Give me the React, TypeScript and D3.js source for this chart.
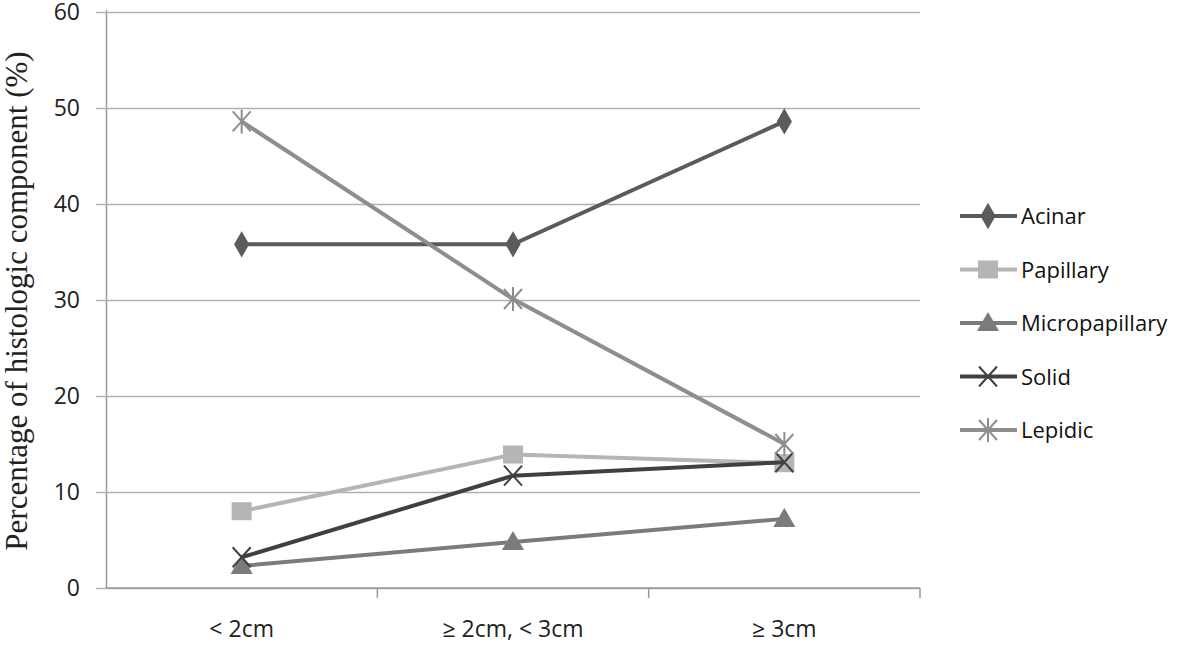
import React, { useEffect, useRef } from 'react';
import * as d3 from 'd3';

// tumour size groups
const categories = ['<2cm', '≥2cm, <3cm', '≥3cm'];
const categoryLabels = ['< 2cm', '≥ 2cm, < 3cm', '≥ 3cm'];

const acinar = [35.8, 35.8, 48.6];
const papillary = [8.0, 13.9, 13.0];
const micropapillary = [2.3, 4.8, 7.2];
const solid = [3.2, 11.7, 13.1];
const lepidic = [48.6, 30.1, 15.0];

const yTicks = [0, 10, 20, 30, 40, 50, 60];

const series = [
  { name: 'Acinar', values: acinar, color: '#5b5b5b', marker: 'diamond' },
  { name: 'Papillary', values: papillary, color: '#b5b5b5', marker: 'square' },
  { name: 'Micropapillary', values: micropapillary, color: '#7b7b7b', marker: 'triangle' },
  { name: 'Solid', values: solid, color: '#404040', marker: 'x' },
  { name: 'Lepidic', values: lepidic, color: '#8e8e8e', marker: 'star' },
];

const App = () => {
  const ref = useRef<SVGSVGElement | null>(null);

  useEffect(() => {
    const svg = d3.select(ref.current);
    svg.selectAll('*').remove();

    const width = 1200;
    const height = 645;
    const margin = { top: 12, right: 280, bottom: 57, left: 106 };
    const plotW = width - margin.left - margin.right;
    const plotH = height - margin.top - margin.bottom;

    const x = d3.scaleBand().domain(categories).range([0, plotW]);
    const y = d3.scaleLinear().domain([0, 60]).range([plotH, 0]);

    svg.append('rect').attr('width', width).attr('height', height).attr('fill', '#fff');

    const g = svg.append('g').attr('transform', `translate(${margin.left},${margin.top})`);

    // horizontal gridlines + y ticks
    const yAxis = g.append('g').call(
      d3.axisLeft(y).tickValues(yTicks).tickSize(-plotW).tickSizeOuter(0).tickPadding(26)
    );
    yAxis.selectAll('.tick line').attr('stroke', '#b0b0b0').attr('stroke-width', 1.5).attr('x1', -10);
    yAxis.selectAll('.tick text')
      .attr('font-family', '"Open Sans", sans-serif')
      .attr('font-size', 23)
      .attr('fill', '#222');
    yAxis.select('.domain')
      .attr('stroke', '#9a9a9a')
      .attr('stroke-width', 1.5)
      .attr('d', `M0.5,-2V${plotH + 1}`);

    // x axis with ticks between categories
    const xAxis = g.append('g').attr('transform', `translate(0,${plotH})`);
    xAxis.append('line')
      .attr('x1', 0).attr('x2', plotW).attr('y1', 0).attr('y2', 0)
      .attr('stroke', '#9a9a9a').attr('stroke-width', 1.5);
    categories.forEach((c) => {
      const bx = (x(c) as number) + x.bandwidth();
      xAxis.append('line')
        .attr('x1', bx).attr('x2', bx).attr('y1', 0).attr('y2', 10)
        .attr('stroke', '#9a9a9a').attr('stroke-width', 1.5);
    });
    xAxis.selectAll('text.cat')
      .data(categories)
      .enter()
      .append('text')
      .attr('class', 'cat')
      .attr('x', (d) => (x(d) as number) + x.bandwidth() / 2)
      .attr('y', 49)
      .attr('text-anchor', 'middle')
      .attr('font-family', '"Open Sans", sans-serif')
      .attr('font-size', 23)
      .attr('fill', '#222')
      .text((d, i) => categoryLabels[i]);

    // y axis title
    svg.append('text')
      .attr('transform', `translate(27,301) rotate(-90)`)
      .attr('text-anchor', 'middle')
      .attr('font-family', '"Liberation Serif", "DejaVu Serif", serif')
      .attr('font-size', 31)
      .attr('fill', '#222')
      .text('Percentage of histologic component (%)');

    const cx = (i: number) => (x(categories[i]) as number) + x.bandwidth() / 2;

    const drawMarker = (sel: any, kind: string, color: string, px: number, py: number) => {
      if (kind === 'diamond') {
        sel.append('path')
          .attr('d', d3.symbol().type(d3.symbolDiamond).size(200)())
          .attr('transform', `translate(${px},${py})`)
          .attr('fill', color);
      } else if (kind === 'square') {
        sel.append('rect')
          .attr('x', px - 10).attr('y', py - 9).attr('width', 20).attr('height', 18)
          .attr('fill', color);
      } else if (kind === 'triangle') {
        sel.append('path')
          .attr('d', `M${px},${py - 11}L${px + 11},${py + 8}L${px - 11},${py + 8}Z`)
          .attr('fill', color);
      } else if (kind === 'x') {
        sel.append('path')
          .attr('d', `M${px - 9},${py - 10}L${px + 9},${py + 10}M${px + 9},${py - 10}L${px - 9},${py + 10}`)
          .attr('stroke', color).attr('stroke-width', 2).attr('fill', 'none');
      } else if (kind === 'star') {
        sel.append('path')
          .attr('d', `M${px - 9},${py - 10}L${px + 9},${py + 10}M${px + 9},${py - 10}L${px - 9},${py + 10}M${px},${py - 12}V${py + 12}`)
          .attr('stroke', color).attr('stroke-width', 2).attr('fill', 'none');
      }
    };

    const line = d3.line<number>()
      .x((d, i) => cx(i))
      .y((d) => y(d));

    series.forEach((s) => {
      const sg = g.append('g');
      sg.append('path')
        .datum(s.values)
        .attr('fill', 'none')
        .attr('stroke', s.color)
        .attr('stroke-width', 4)
        .attr('d', line);
      s.values.forEach((v, i) => drawMarker(sg, s.marker, s.color, cx(i), y(v)));
    });

    // legend
    const legend = svg.append('g').attr('transform', 'translate(960,0)');
    series.forEach((s, i) => {
      const ly = 216 + i * 53.5;
      const lg = legend.append('g');
      lg.append('line')
        .attr('x1', 0).attr('x2', 57).attr('y1', ly).attr('y2', ly)
        .attr('stroke', s.color).attr('stroke-width', 4);
      drawMarker(lg, s.marker, s.color, 28, ly);
      lg.append('text')
        .attr('x', 61)
        .attr('y', ly + 8)
        .attr('font-family', '"Open Sans", sans-serif')
        .attr('font-size', 22)
        .attr('fill', '#111')
        .text(s.name);
    });
  }, []);

  return (
    <svg
      ref={ref}
      width={1200}
      height={645}
      style={{ position: 'absolute', left: 0, top: 0, display: 'block' }}
    />
  );
};

export default App;
